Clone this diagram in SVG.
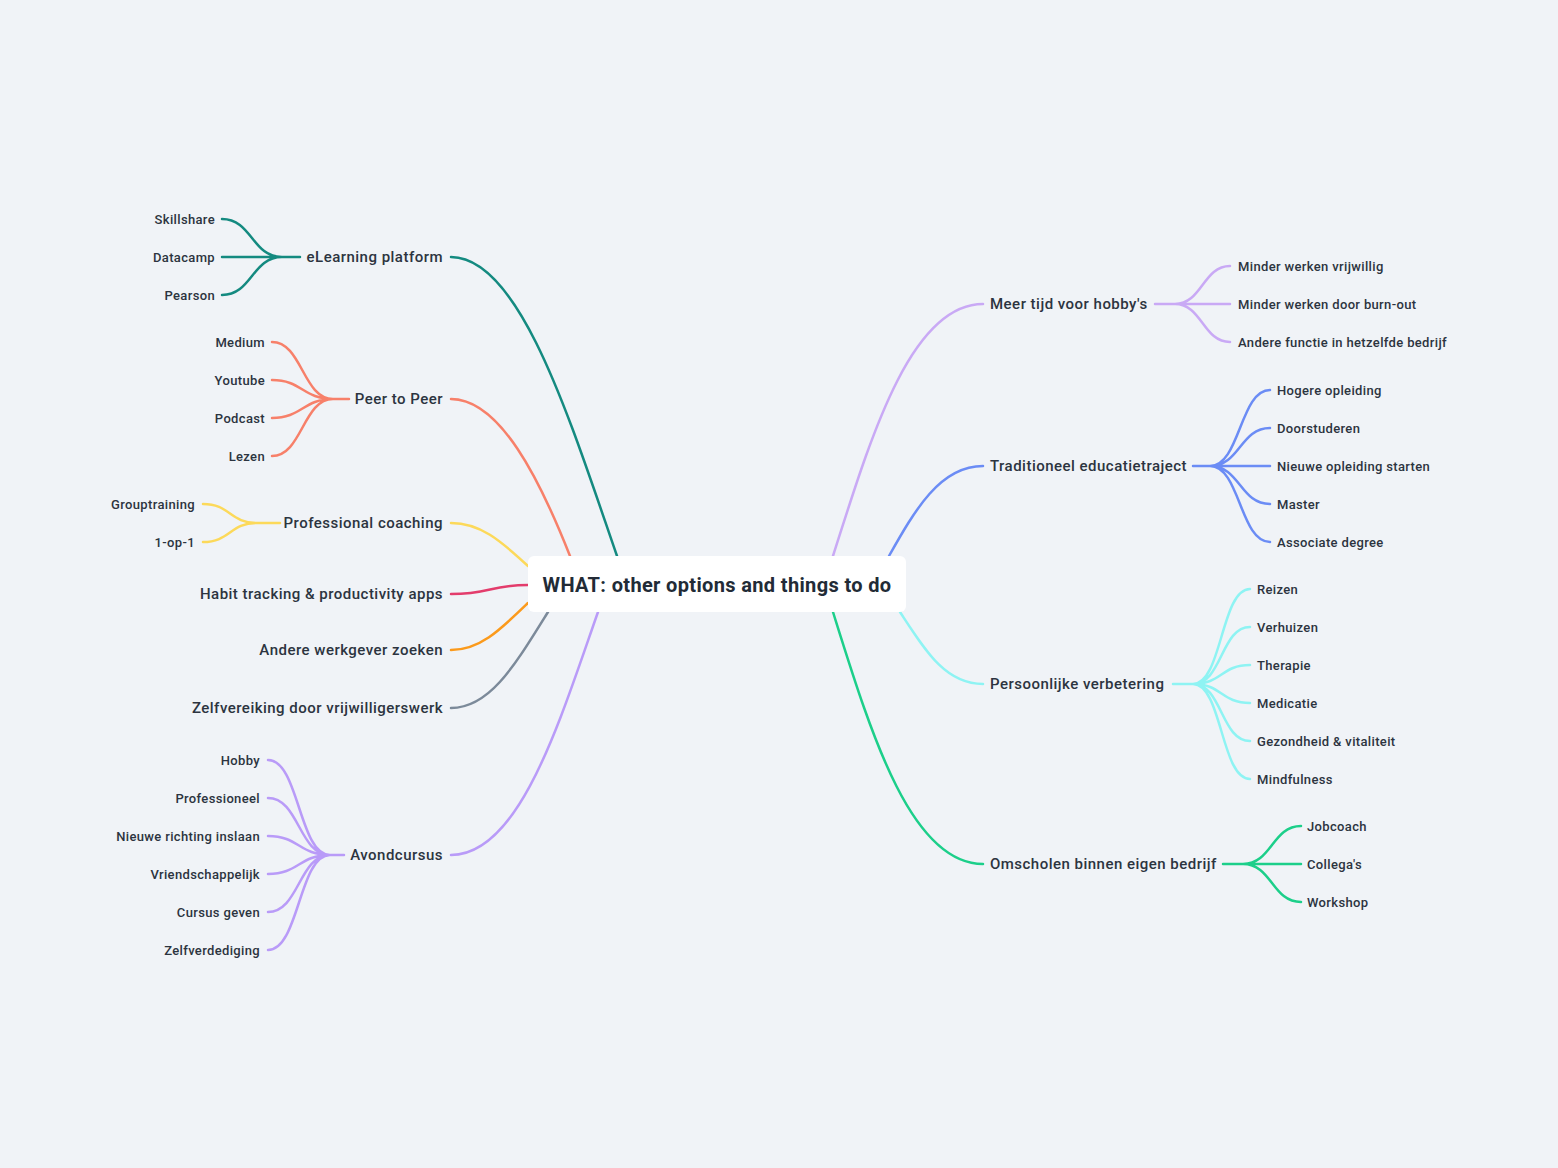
<svg xmlns="http://www.w3.org/2000/svg" width="1558" height="1168" viewBox="0 0 1558 1168">
<style>
text{font-family:Roboto,"Liberation Sans",sans-serif;fill:#2c3440;dominant-baseline:central;font-weight:500}
.l1{font-size:15px;letter-spacing:0.48px}
.l2{font-size:13px;letter-spacing:0.35px}
.end{text-anchor:end}
.title{font-size:20px;font-weight:700;letter-spacing:0.35px;fill:#222b36;text-anchor:middle}
.c{fill:none;stroke-width:2.5;stroke-linecap:round}
.teal{stroke:#148a80}.salmon{stroke:#f7806a}.yellow{stroke:#fcd95a}.pink{stroke:#e33c6c}.orange{stroke:#fb9a1c}.slate{stroke:#7c8a9a}.lav{stroke:#b99bf8}.lilac{stroke:#c9a9f5}.blue{stroke:#6b8cf5}.cyan{stroke:#8ef3f3}.green{stroke:#1ccf8a}
</style>
<rect width="1558" height="1168" fill="#f0f3f7"/>
<g id="connectors">
<path class="c teal" d="M451,257 C520,257 570,420 617,556"/>
<path class="c salmon" d="M451,399 C500,399 540,480 570,556"/>
<path class="c yellow" d="M451,523 C480,523 500,540 528,566"/>
<path class="c pink" d="M451,594 C490,594 490,585 528,585"/>
<path class="c orange" d="M451,650 C480,650 500,630 528,603"/>
<path class="c slate" d="M451,708 C490,708 515,665 548,612"/>
<path class="c lav" d="M451,855 C520,855 560,720 598,612"/>
<path class="c lilac" d="M983,304 C910,304 870,440 833,556"/>
<path class="c blue" d="M983,466 C940,466 915,510 889,556"/>
<path class="c cyan" d="M983,684 C945,684 925,650 900,612"/>
<path class="c green" d="M983,864 C910,864 870,730 833,612"/>
<path class="c teal" d="M282,257 L300,257 M222,219 C252,219 252,257 282,257 M222,257 L282,257 M222,295 C252,295 252,257 282,257"/>
<path class="c salmon" d="M333,399 L349,399 M272,342 C302,342 303,399 333,399 M272,380 C302,380 303,399 333,399 M272,418 C302,418 303,399 333,399 M272,456 C302,456 303,399 333,399"/>
<path class="c yellow" d="M257,523 L280,523 M203,504 C230,504 230,523 257,523 M203,542 C230,542 230,523 257,523"/>
<path class="c lav" d="M330,855 L344,855 M268,760 C299,760 299,855 330,855 M268,798 C299,798 299,855 330,855 M268,836 C299,836 299,855 330,855 M268,874 C299,874 299,855 330,855 M268,912 C299,912 299,855 330,855 M268,950 C299,950 299,855 330,855"/>
<path class="c lilac" d="M1155,304 L1175,304 M1175,304 C1202,304 1203,266 1230,266 M1175,304 L1230,304 M1175,304 C1202,304 1203,342 1230,342"/>
<path class="c blue" d="M1193,466 L1210,466 M1210,466 C1240,466 1240,390 1270,390 M1210,466 C1240,466 1240,428 1270,428 M1210,466 L1270,466 M1210,466 C1240,466 1240,504 1270,504 M1210,466 C1240,466 1240,542 1270,542"/>
<path class="c cyan" d="M1173,684 L1193,684 M1193,684 C1222,684 1221,589 1250,589 M1193,684 C1222,684 1221,627 1250,627 M1193,684 C1222,684 1221,665 1250,665 M1193,684 C1222,684 1221,703 1250,703 M1193,684 C1222,684 1221,741 1250,741 M1193,684 C1222,684 1221,779 1250,779"/>
<path class="c green" d="M1223,864 L1243,864 M1243,864 C1272,864 1272,826 1301,826 M1243,864 L1301,864 M1243,864 C1272,864 1272,902 1301,902"/>
</g>
<g id="center">
<rect x="528" y="556" width="378" height="56" rx="6" fill="#ffffff"/>
<text class="title" x="717" y="585">WHAT: other options and things to do</text>
</g>
<g id="elearning"><text class="l1 end" x="443" y="257">eLearning platform</text></g>
<g id="skillshare"><text class="l2 end" x="215" y="219">Skillshare</text></g>
<g id="datacamp"><text class="l2 end" x="215" y="257">Datacamp</text></g>
<g id="pearson"><text class="l2 end" x="215" y="295">Pearson</text></g>
<g id="peer"><text class="l1 end" x="443" y="399">Peer to Peer</text></g>
<g id="medium"><text class="l2 end" x="265" y="342">Medium</text></g>
<g id="youtube"><text class="l2 end" x="265" y="380">Youtube</text></g>
<g id="podcast"><text class="l2 end" x="265" y="418">Podcast</text></g>
<g id="lezen"><text class="l2 end" x="265" y="456">Lezen</text></g>
<g id="coaching"><text class="l1 end" x="443" y="523">Professional coaching</text></g>
<g id="grouptraining"><text class="l2 end" x="195" y="504">Grouptraining</text></g>
<g id="opeen"><text class="l2 end" x="195" y="542">1-op-1</text></g>
<g id="habit"><text class="l1 end" x="443" y="594">Habit tracking &amp; productivity apps</text></g>
<g id="werkgever"><text class="l1 end" x="443" y="650">Andere werkgever zoeken</text></g>
<g id="zelfvereiking"><text class="l1 end" x="443" y="708">Zelfvereiking door vrijwilligerswerk</text></g>
<g id="avondcursus"><text class="l1 end" x="443" y="855">Avondcursus</text></g>
<g id="hobby"><text class="l2 end" x="260" y="760">Hobby</text></g>
<g id="professioneel"><text class="l2 end" x="260" y="798">Professioneel</text></g>
<g id="richting"><text class="l2 end" x="260" y="836">Nieuwe richting inslaan</text></g>
<g id="vriendschappelijk"><text class="l2 end" x="260" y="874">Vriendschappelijk</text></g>
<g id="cursusgeven"><text class="l2 end" x="260" y="912">Cursus geven</text></g>
<g id="zelfverdediging"><text class="l2 end" x="260" y="950">Zelfverdediging</text></g>
<g id="meertijd"><text class="l1" x="990" y="304">Meer tijd voor hobby's</text></g>
<g id="vrijwillig"><text class="l2" x="1238" y="266">Minder werken vrijwillig</text></g>
<g id="burnout"><text class="l2" x="1238" y="304">Minder werken door burn-out</text></g>
<g id="anderefunctie"><text class="l2" x="1238" y="342">Andere functie in hetzelfde bedrijf</text></g>
<g id="traditioneel"><text class="l1" x="990" y="466">Traditioneel educatietraject</text></g>
<g id="hogere"><text class="l2" x="1277" y="390">Hogere opleiding</text></g>
<g id="doorstuderen"><text class="l2" x="1277" y="428">Doorstuderen</text></g>
<g id="nieuweopleiding"><text class="l2" x="1277" y="466">Nieuwe opleiding starten</text></g>
<g id="master"><text class="l2" x="1277" y="504">Master</text></g>
<g id="associate"><text class="l2" x="1277" y="542">Associate degree</text></g>
<g id="persoonlijke"><text class="l1" x="990" y="684">Persoonlijke verbetering</text></g>
<g id="reizen"><text class="l2" x="1257" y="589">Reizen</text></g>
<g id="verhuizen"><text class="l2" x="1257" y="627">Verhuizen</text></g>
<g id="therapie"><text class="l2" x="1257" y="665">Therapie</text></g>
<g id="medicatie"><text class="l2" x="1257" y="703">Medicatie</text></g>
<g id="gezondheid"><text class="l2" x="1257" y="741">Gezondheid &amp; vitaliteit</text></g>
<g id="mindfulness"><text class="l2" x="1257" y="779">Mindfulness</text></g>
<g id="omscholen"><text class="l1" x="990" y="864">Omscholen binnen eigen bedrijf</text></g>
<g id="jobcoach"><text class="l2" x="1307" y="826">Jobcoach</text></g>
<g id="collegas"><text class="l2" x="1307" y="864">Collega's</text></g>
<g id="workshop"><text class="l2" x="1307" y="902">Workshop</text></g>
</svg>
